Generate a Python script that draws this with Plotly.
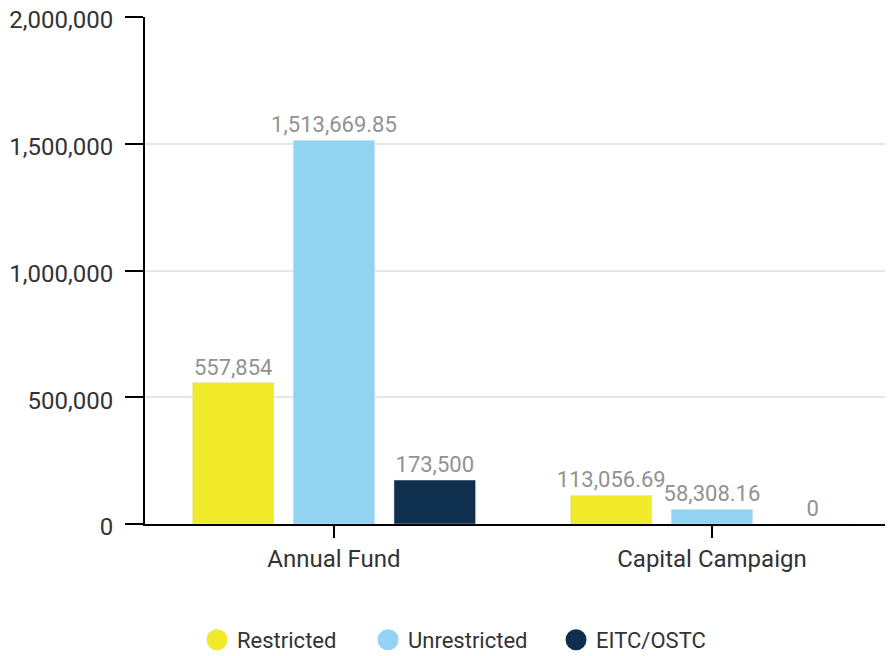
import plotly.graph_objects as go

categories = ["Annual Fund", "Capital Campaign"]
series_names = ["Restricted", "Unrestricted", "EITC/OSTC"]
restricted = [557854, 113056.69]
unrestricted = [1513669.85, 58308.16]
eitc = [173500, 0]
colors = ["#f0ea2a", "#93d3f2", "#0e2f4d"]
legend_widths = [126, 143, 130]
y_ticks = [0, 500000, 1000000, 1500000, 2000000]


def fmt(v):
    return f"{v:,.0f}" if float(v).is_integer() else f"{v:,.2f}"


fig = go.Figure()
for name, vals, col in zip(series_names, [restricted, unrestricted, eitc], colors):
    fig.add_trace(go.Bar(
        x=categories, y=vals, name=name, marker_color=col, showlegend=False,
        text=[fmt(v) for v in vals], textposition="outside",
        textfont=dict(color="#929292", size=22, family="Roboto"),
        constraintext="none", cliponaxis=False,
    ))
for name, col, lw in zip(series_names, colors, legend_widths):
    fig.add_trace(go.Scatter(
        x=[None], y=[None], mode="markers", name=name, legendwidth=lw,
        marker=dict(color=col, size=22, symbol="circle",
                    line=dict(color=col, width=5)),
    ))

fig.update_layout(
    width=885, height=648,
    margin=dict(l=137, r=0, t=9, b=132, autoexpand=False),
    plot_bgcolor="white", paper_bgcolor="white",
    font=dict(family="Roboto", color="#333333"),
    barmode="group", bargap=0.2, bargroupgap=0.19,
    legend=dict(orientation="h", xref="container", x=0.2136, xanchor="left",
                yref="container", y=0.0247, yanchor="middle",
                font=dict(size=22, color="#333333")),
    xaxis=dict(range=[-0.5, 1.479], showline=True, linecolor="black", linewidth=2,
               ticks="outside", ticklen=12, tickwidth=2, tickcolor="black",
               tickfont=dict(size=24, color="#333333"), showgrid=False,
               automargin=False),
    yaxis=dict(range=[0, 2000000], tickvals=y_ticks, tickformat=",d",
               showline=True, linecolor="black", linewidth=2,
               ticks="outside", ticklen=18, tickwidth=2, tickcolor="black",
               tickfont=dict(size=24, color="#333333"), ticklabelstandoff=7,
               ticklabeloverflow="allow", ticklabelshift=3,
               showgrid=True, gridcolor="#e6e6e6", gridwidth=2, zeroline=False,
               automargin=False),
)
fig.write_html("out.html")
